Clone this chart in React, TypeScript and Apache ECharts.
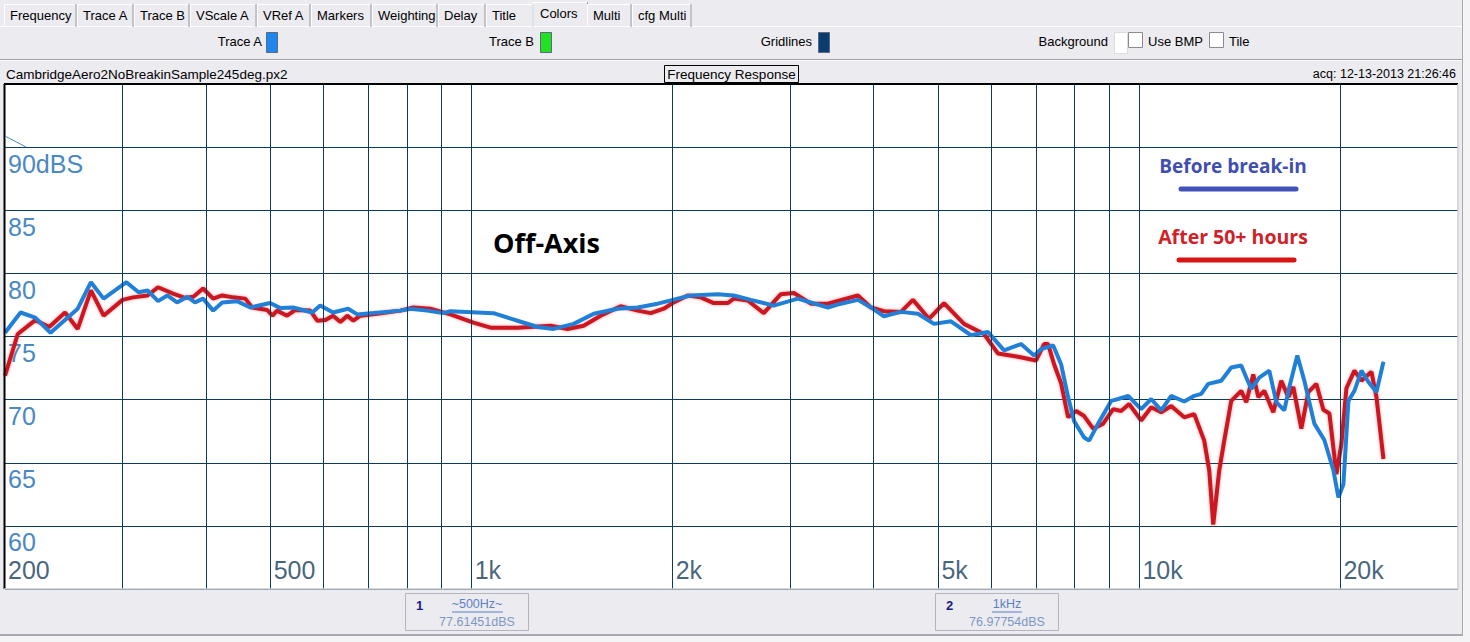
import React, { useEffect, useRef } from "react";
import * as echarts from "echarts";

// ---- data ----
const beforeFreq = [200, 211, 222, 234, 257, 269, 281, 304, 317, 327, 339, 350, 362, 375, 385, 396, 410, 423, 445, 466, 499, 517, 540, 577, 593, 620, 653, 674, 782, 809, 858, 907, 929, 1078, 1171, 1255, 1326, 1421, 1523, 1654, 1772, 1899, 2035, 2128, 2336, 2469, 2618, 2834, 3079, 3415, 3572, 3788, 3962, 4143, 4394, 4659, 4924, 5222, 5595, 5933, 6270, 6649, 6954, 7124, 7425, 7633, 7820, 7983, 8264, 8408, 8673, 9071, 9293, 9619, 10061, 10414, 10780, 11159, 11671, 12081, 12376, 12678, 13260, 13725, 14207, 14455, 14707, 15118, 15649, 16032, 16481, 16769, 17238, 17660, 18280, 18922, 19523, 19862, 20208, 20560, 20990, 21504, 22030, 22646, 23200];
const beforeDb = [75.3, 76.9, 76.5, 75.3, 77.2, 79.3, 78.0, 79.3, 78.5, 78.65, 77.8, 78.25, 77.7, 78.15, 77.7, 78.0, 77.05, 77.7, 77.8, 77.3, 77.65, 77.25, 77.3, 76.9, 77.45, 76.9, 77.2, 76.75, 77.05, 77.2, 77.05, 76.85, 77.0, 76.85, 76.25, 75.75, 75.6, 76.0, 76.8, 77.2, 77.3, 77.6, 78.0, 78.25, 78.35, 78.25, 77.9, 77.45, 78.0, 77.3, 77.6, 77.9, 77.3, 76.6, 76.95, 76.8, 76.0, 76.2, 75.1, 75.35, 73.9, 74.4, 73.5, 74.0, 74.3, 72.8, 70.2, 68.3, 67.0, 66.75, 68.1, 69.9, 70.05, 70.3, 69.25, 70.05, 69.15, 70.3, 69.85, 70.3, 70.45, 71.25, 71.5, 72.55, 72.7, 71.75, 70.85, 71.75, 72.3, 69.8, 69.15, 71.0, 73.5, 71.5, 68.1, 66.8, 64.4, 62.25, 63.3, 69.9, 70.7, 72.3, 71.4, 70.6, 73.0];

const afterFreq = [200, 209, 222, 233, 246, 257, 269, 281, 300, 311, 327, 339, 357, 372, 383, 396, 410, 423, 439, 458, 469, 494, 503, 511, 529, 544, 573, 587, 604, 620, 636, 651, 665, 681, 722, 782, 818, 867, 929, 1006, 1067, 1171, 1313, 1392, 1471, 1560, 1671, 1772, 1854, 1939, 2007, 2106, 2203, 2304, 2418, 2469, 2591, 2738, 2904, 3037, 3221, 3415, 3788, 3962, 4143, 4394, 4580, 4840, 5097, 5461, 5852, 6141, 6580, 7002, 7198, 7298, 7451, 7633, 7820, 8039, 8264, 8525, 8824, 9134, 9389, 9652, 10061, 10414, 10780, 11159, 11671, 12081, 12504, 12722, 12899, 13169, 13398, 13725, 14207, 14455, 14808, 15066, 15382, 15867, 16311, 16711, 17002, 17478, 17905, 18407, 18856, 19255, 19725, 20069, 20418, 20990, 21504, 22258, 22646, 23200];
const afterDb = [71.9, 75.2, 76.3, 75.75, 76.9, 75.6, 78.65, 76.65, 77.9, 78.1, 78.25, 78.9, 78.4, 78.05, 78.15, 78.8, 78.0, 78.25, 78.1, 78.0, 77.3, 77.1, 76.65, 77.05, 76.65, 77.1, 77.05, 76.25, 76.3, 76.65, 76.15, 76.65, 76.25, 76.65, 76.8, 77.05, 77.3, 77.2, 76.75, 76.1, 75.7, 75.7, 75.85, 75.6, 75.85, 76.65, 77.4, 77.05, 76.85, 77.2, 77.7, 78.25, 78.1, 77.65, 77.65, 78.0, 77.85, 76.85, 78.35, 78.45, 77.6, 77.6, 78.25, 77.3, 77.0, 76.95, 77.9, 76.4, 77.65, 76.0, 75.2, 73.65, 73.4, 73.1, 74.4, 74.4, 72.8, 71.3, 68.6, 69.1, 68.7, 67.7, 68.1, 69.25, 69.1, 69.65, 68.35, 69.4, 69.0, 69.5, 68.6, 68.85, 66.75, 64.4, 60.1, 64.4, 66.75, 69.9, 70.7, 69.8, 72.0, 70.2, 70.7, 69.0, 71.5, 70.2, 71.0, 67.7, 70.6, 71.25, 69.2, 68.9, 64.1, 66.5, 70.9, 72.3, 71.5, 72.2, 70.2, 65.3];

const gridFreqs = [300, 400, 500, 600, 700, 800, 900, 1000, 2000, 3000, 4000, 5000, 6000, 7000, 8000, 9000, 10000, 20000];
const tickFreqs = [200, 500, 1000, 2000, 5000, 10000, 20000];
const tickLabels = ["200", "500", "1k", "2k", "5k", "10k", "20k"];

const tabNames = ["Frequency", "Trace A", "Trace B", "VScale A", "VRef A", "Markers", "Weighting", "Delay", "Title", "Colors", "Multi", "cfg Multi"];
const selectedTab = "Colors";

const fileName = "CambridgeAero2NoBreakinSample245deg.px2";
const chartTitle = "Frequency Response";
const acqText = "acq: 12-13-2013 21:26:46";
const beforeName = "Before break-in";
const afterName = "After 50+ hours";
const annotation = "Off-Axis";
const marker1 = { id: "1", freq: "~500Hz~", value: "77.61451dBS" };
const marker2 = { id: "2", freq: "1kHz", value: "76.97754dBS" };

const UI_FONT = "'Liberation Sans', Arial, sans-serif";
const BG = "#ecebf0";
const GRID_COLOR = "#0d3b5e";

function txt(text: string, x: number, y: number, opts: any = {}) {
  const align = opts.align || "left";
  return {
    type: "text",
    z: opts.z ?? 50,
    silent: true,
    style: {
      text,
      x,
      y,
      fill: opts.fill || "#000",
      font: opts.font || `13.5px ${UI_FONT}`,
      textAlign: align,
      align,
      textVerticalAlign: "middle",
      verticalAlign: "middle",
    },
  };
}
function rect(x: number, y: number, w: number, h: number, fill: string, stroke?: string, z = 40) {
  return {
    type: "rect",
    z,
    silent: true,
    shape: { x, y, width: w, height: h },
    style: { fill, stroke: stroke || null, lineWidth: stroke ? 1 : 0 },
  };
}
function line(x1: number, y1: number, x2: number, y2: number, stroke: string, w = 1, z = 45, cap = "butt") {
  return {
    type: "line",
    z,
    silent: true,
    shape: { x1, y1, x2, y2 },
    style: { stroke, lineWidth: w, lineCap: cap },
  };
}

export default function App() {
  const ref = useRef<HTMLDivElement>(null);

  useEffect(() => {
    if (!ref.current) return;
    const chart = echarts.init(ref.current, null, { renderer: "svg" });

    const tabEdges = [4, 77, 134, 190, 257, 311, 372, 438, 486, 534, 587, 632, 692];
    const g: any[] = [];

    // --- tab bar ---
    g.push(line(0, 26.5, 1462, 26.5, "#ffffff", 1));
    tabNames.forEach((name, i) => {
      const x0 = tabEdges[i];
      const x1 = tabEdges[i + 1];
      const sel = name === selectedTab;
      const top = sel ? 2 : 4;
      const left = sel ? x0 - 1 : x0 + 0.5;
      const right = sel ? x1 + 1 : x1 - 0.5;
      g.push(rect(left, top, right - left, 27 - top, BG, undefined, 41));
      g.push(line(left, top, left, 27, "#ffffff", 1, 46));
      g.push(line(left, top + 0.5, right - 1, top + 0.5, "#ffffff", 1, 46));
      g.push(line(right - 0.5, top, right - 0.5, 27, "#9a9aa0", 1, 46));
      g.push(txt(name, x0 + 6, sel ? 13 : 15, { font: `13px ${UI_FONT}`, z: 47 }));
    });

    // --- colors panel ---
    g.push(line(0, 59.5, 1462, 59.5, "#a0a0a8", 1));
    g.push(line(0, 60.5, 1462, 60.5, "#ffffff", 1));
    g.push(txt("Trace A", 262, 41, { align: "right", font: `13px ${UI_FONT}` }));
    g.push(rect(266.5, 32.5, 11, 20, "#1e86ee", "#5a6a80"));
    g.push(txt("Trace B", 534, 41, { align: "right", font: `13px ${UI_FONT}` }));
    g.push(rect(540.5, 32.5, 11, 20, "#22e022", "#5a6a80"));
    g.push(txt("Gridlines", 812, 41, { align: "right", font: `13px ${UI_FONT}` }));
    g.push(rect(818.5, 32.5, 11, 20, "#0a3c72", "#5a6a80"));
    g.push(txt("Background", 1108, 41, { align: "right", font: `13px ${UI_FONT}` }));
    g.push(rect(1114.5, 32.5, 13, 21, "#ffffff", "#dcdce0"));
    g.push(rect(1128.5, 32.5, 14, 15, "#ffffff", "#8a8a90"));
    g.push(txt("Use BMP", 1148, 41, { font: `13px ${UI_FONT}` }));
    g.push(rect(1209.5, 32.5, 14, 15, "#ffffff", "#8a8a90"));
    g.push(txt("Tile", 1229, 41, { font: `13px ${UI_FONT}` }));

    // --- title row ---
    g.push(txt(fileName, 6, 74));
    g.push(rect(664.5, 65.5, 134, 17, BG, "#000000"));
    g.push(txt(chartTitle, 731.5, 74.5, { align: "center" }));
    g.push(txt(acqText, 1456, 74, { align: "right", font: `12.5px ${UI_FONT}` }));

    // --- plot frame ---
    g.push(line(4, 84, 1458, 84, "#000000", 2, 60));
    g.push(line(4.5, 84, 4.5, 589, "#000000", 2, 60));
    g.push(line(4, 589, 1458, 589, "#cfcfd4", 1.5, 60));
    g.push(line(1458, 84, 1458, 589, "#cfcfd4", 1.5, 60));
    g.push(line(1462.5, 0, 1462.5, 635, "#a8a8ae", 1, 60));
    g.push(line(0, 635, 1463, 635, "#a8a8ae", 2, 60));
    g.push(rect(1463, 0, 7, 642, "#f4f4f6", undefined, 59));
    g.push(rect(0, 636, 1470, 6, "#f4f4f6", undefined, 59));
    // reference marker at top left
    g.push(line(5, 136, 26, 147, "#4a88c4", 1, 61));

    // --- annotations in plot ---
    g.push(txt(annotation, 493, 242, { font: `bold 27px 'Open Sans', sans-serif`, fill: "#000", z: 70 }));
    g.push(txt(beforeName, 1233, 166, { align: "center", font: `bold 19px 'Open Sans', sans-serif`, fill: "#3f4fb0", z: 70 }));
    g.push(line(1181, 189, 1296, 189, "#4352b8", 5, 70, "round"));
    g.push(txt(afterName, 1233, 236, { align: "center", font: `bold 19.5px 'Open Sans', sans-serif`, fill: "#d02028", z: 70 }));
    g.push(line(1179, 260, 1294, 260, "#d81414", 5, 70, "round"));

    // --- marker boxes ---
    const markerBox = (x: number, m: any) => {
      g.push(rect(x + 0.5, 593.5, 123, 37, BG, "#b4b4c4"));
      g.push(txt(m.id, x + 11, 605, { font: `bold 13px ${UI_FONT}`, fill: "#1a2080" }));
      g.push(txt(m.freq, x + 72, 604, { align: "center", font: `12.5px ${UI_FONT}`, fill: "#5b80c4" }));
      g.push(txt(m.value, x + 72, 622, { align: "center", font: `12.5px ${UI_FONT}`, fill: "#7d98c4" }));
    };
    markerBox(405, marker1);
    markerBox(935, marker2);
    g.push(line(452, 612, 503, 612, "#5b80c4", 1));
    g.push(line(992, 612, 1022, 612, "#5b80c4", 1));

    const option: any = {
      animation: false,
      backgroundColor: BG,
      graphic: { elements: g },
      grid: {
        left: 5,
        top: 84,
        width: 1453,
        height: 505,
        show: true,
        backgroundColor: "#ffffff",
        borderWidth: 0,
      },
      xAxis: {
        type: "log",
        logBase: 10,
        min: 200,
        max: 30000,
        axisLine: { show: false },
        axisTick: { show: false },
        axisLabel: { show: false },
        splitLine: { show: false },
      },
      yAxis: {
        type: "value",
        min: 55,
        max: 95,
        interval: 5,
        axisLine: { show: false },
        axisTick: { show: false },
        splitLine: { show: true, lineStyle: { color: GRID_COLOR, width: 1 } },
        axisLabel: {
          inside: true,
          margin: 3,
          color: "#4a88c4",
          fontSize: 25,
          fontFamily: "Liberation Sans",
          verticalAlign: "top",
          padding: [4, 0, 0, 0],
          formatter: (v: number) => (v === 90 ? "90dBS" : v === 55 || v === 95 ? "" : String(v)),
        },
      },
      series: [
        {
          name: "axis",
          type: "scatter",
          silent: true,
          z: 1,
          symbolSize: 0,
          data: tickFreqs.map((f) => [f, 55]),
          label: {
            show: true,
            position: "right",
            distance: 3,
            offset: [0, -19],
            color: "#143c5a",
            fontSize: 25,
            fontFamily: "Liberation Sans",
            formatter: (p: any) => tickLabels[p.dataIndex],
          },
          markLine: {
            silent: true,
            symbol: ["none", "none"],
            label: { show: false },
            lineStyle: { color: GRID_COLOR, width: 1, type: "solid" },
            emphasis: { disabled: true },
            data: gridFreqs.map((f) => ({ xAxis: f })),
          },
        },
        {
          name: afterName,
          type: "line",
          z: 3,
          showSymbol: false,
          silent: true,
          data: afterFreq.map((f, i) => [f, afterDb[i]]),
          lineStyle: { color: "#cc1820", width: 4, shadowColor: "rgba(235,70,70,0.55)", shadowBlur: 3 },
        },
        {
          name: beforeName,
          type: "line",
          z: 4,
          showSymbol: false,
          silent: true,
          data: beforeFreq.map((f, i) => [f, beforeDb[i]]),
          lineStyle: { color: "#2080d8", width: 4 },
        },
      ],
    };
    chart.setOption(option);
    return () => chart.dispose();
  }, []);

  return <div ref={ref} style={{ position: "fixed", left: 0, top: 0, width: 1470, height: 642 }} />;
}
